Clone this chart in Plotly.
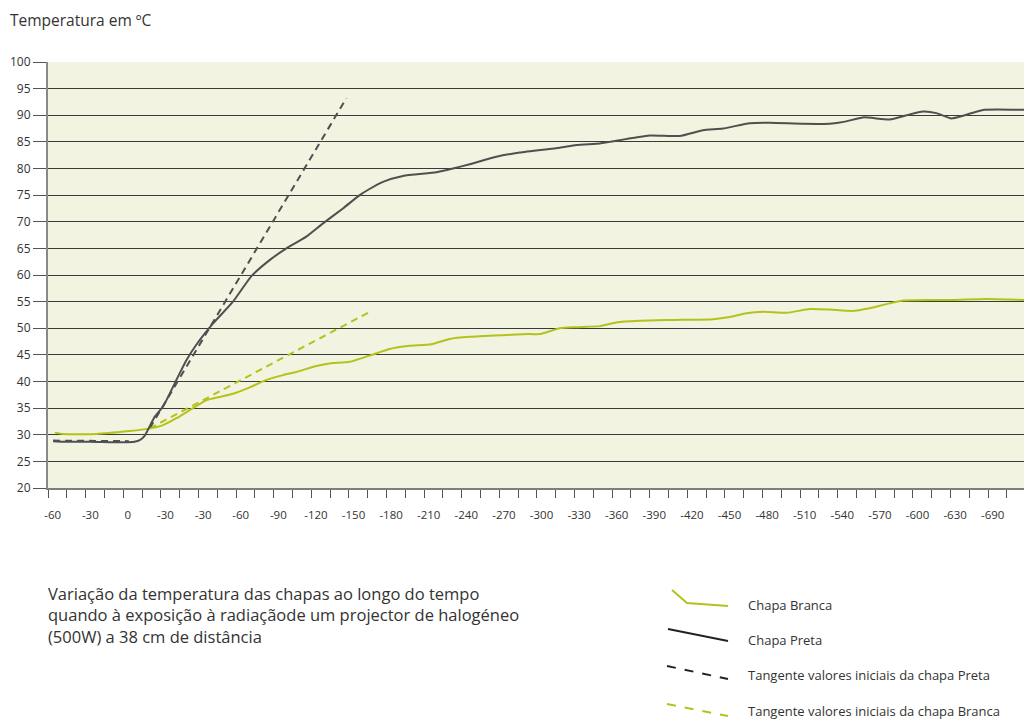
import plotly.graph_objects as go

# x positions are in "tick" units: one unit per small tick on the time axis
TICK_LABELS = ["-60", "-30", "0", "-30", "-30", "-60", "-90", "-120", "-150", "-180",
               "-210", "-240", "-270", "-300", "-330", "-360", "-390", "-420", "-450",
               "-480", "-510", "-540", "-570", "-600", "-630", "-690"]
TICK_POS = [0.25 + 2 * i for i in range(len(TICK_LABELS))]

preta_x = [0.27, 0.8, 2.2, 4.0, 4.6, 4.88, 5.14, 5.68, 6.12, 6.83, 7.36, 7.89, 8.78,
           9.84, 10.82, 11.79, 12.68, 13.74, 14.63, 15.69, 16.58, 17.1, 17.82, 18.88,
           20.66, 21.54, 22.43, 23.85, 25.09, 27.22, 28.1, 29.35, 29.88, 32.0, 33.6,
           34.84, 35.9, 37.32, 38.39, 40.16, 41.58, 42.4, 43.35, 44.77, 45.66, 46.54,
           47.26, 48.05, 48.67, 49.73, 52.13]
preta_y = [28.8, 28.7, 28.7, 28.6, 28.7, 29.0, 29.8, 33.4, 35.3, 40.3, 44.0, 46.9, 50.9,
           55.0, 59.8, 62.8, 65.0, 67.2, 69.7, 72.5, 75.0, 76.15, 77.5, 78.6,
           79.3, 80.0, 80.8, 82.2, 83.0, 83.9, 84.4, 84.7, 85.0, 86.2, 86.1,
           87.2, 87.5, 88.5, 88.6, 88.4, 88.4, 88.8, 89.6, 89.2, 90.0, 90.7,
           90.4, 89.4, 89.9, 91.0, 91.0]

branca_x = [0.36, 0.8, 2.57, 4.35, 5.32, 6.12, 6.83, 7.71, 8.43, 9.13, 9.84, 10.73,
            11.62, 12.5, 13.21, 14.28, 14.98, 16.05, 17.1, 18.17, 19.24, 20.39, 21.37,
            22.43, 24.2, 25.62, 26.15, 27.22, 28.1, 29.35, 30.23, 31.47, 33.24, 35.37,
            36.26, 37.15, 38.03, 39.28, 40.52, 41.58, 42.8, 43.7, 45.48, 48.1, 49.9, 52.13]
branca_y = [30.4, 30.15, 30.15, 30.7, 31.1, 31.8, 33.1, 35.0, 36.5, 37.1, 37.7, 38.9,
            40.3, 41.2, 41.8, 42.9, 43.4, 43.7, 44.85, 46.1, 46.7, 47.0, 48.0,
            48.4, 48.7, 48.9, 48.9, 50.0, 50.2, 50.4, 51.1, 51.4, 51.55, 51.7,
            52.1, 52.8, 53.1, 52.9, 53.6, 53.5, 53.24, 53.75, 55.2, 55.3, 55.5, 55.3]

# initial-value tangents (flat start + rising tangent)
tan_preta_x = [0.27, 4.3, None, 5.41, 15.87]
tan_preta_y = [28.9, 28.8, None, 31.2, 93.2]
tan_branca_x = [5.41, 17.02]
tan_branca_y = [31.2, 52.9]

Y_TICKS = list(range(20, 101, 5))

CAPTION = ["Variação da temperatura das chapas ao longo do tempo",
           "quando à exposição à radiaçãode um projector de halogéneo",
           "(500W) a 38 cm de distância"]

DARK = "#505050"
GREEN = "#b4c21c"
FONT = "Open Sans"

fig = go.Figure([
    go.Scatter(x=tan_branca_x, y=tan_branca_y, mode="lines",
               line=dict(color=GREEN, width=2, dash="7px,5px")),
    go.Scatter(x=tan_preta_x, y=tan_preta_y, mode="lines",
               line=dict(color=DARK, width=2, dash="7px,5px")),
    go.Scatter(x=branca_x, y=branca_y, mode="lines",
               line=dict(color=GREEN, width=2, shape="spline", smoothing=0.5)),
    go.Scatter(x=preta_x, y=preta_y, mode="lines",
               line=dict(color=DARK, width=2, shape="spline", smoothing=0.5)),
])

# page has an 8px body margin, so the figure is 8px smaller on each side
fig.update_layout(
    width=1024, height=713,
    margin=dict(l=40, r=0, t=54, b=233),
    paper_bgcolor="white",
    plot_bgcolor="#f2f3e0",
    showlegend=False,
    font=dict(family=FONT, color="#333333"),
    xaxis=dict(
        range=[0, 52.34], showgrid=False, zeroline=False,
        tickmode="array", tickvals=TICK_POS, ticktext=TICK_LABELS,
        ticks="", tickfont=dict(size=11.5, color="#333333"), ticklabelstandoff=15,
        showline=True, linecolor="#7f7f7a", linewidth=2,
        minor=dict(ticks="outside", tick0=0, dtick=1, ticklen=8,
                   tickcolor="#555555", tickwidth=1, showgrid=False),
    ),
    yaxis=dict(
        range=[20, 100], tickvals=Y_TICKS, zeroline=False,
        showgrid=True, gridcolor="#3a3a3a", gridwidth=1,
        ticks="outside", ticklen=13, tickcolor="#555555", tickwidth=1,
        tickfont=dict(size=12, color="#333333"),
        showline=True, linecolor="#8a8a85", linewidth=2,
    ),
)


def px_x(p):
    return (p - 48) / 984


def px_y(p):
    return (488 - p) / 426


fig.add_annotation(text="Temperatura em ºC", xref="paper", yref="paper",
                   x=px_x(8), y=px_y(20), xanchor="left", yanchor="middle",
                   showarrow=False, font=dict(size=15.5, color="#333333"))

fig.add_annotation(text="<br>".join(CAPTION), xref="paper", yref="paper",
                   x=px_x(46), y=px_y(580), xanchor="left", yanchor="top", align="left",
                   showarrow=False, font=dict(size=16.5, color="#333333"))

# hand-drawn style legend on the lower right
legend_items = [
    ("Chapa Branca", GREEN, "solid", [(672, 590), (687, 603), (728, 606)], 605),
    ("Chapa Preta", "#222222", "solid", [(668, 629), (728, 641)], 640),
    ("Tangente valores iniciais da chapa Preta", "#222222", "dash", [(667, 666), (728, 679)], 675),
    ("Tangente valores iniciais da chapa Branca", GREEN, "dash", [(667, 704), (728, 716)], 711),
]
for label, col, dash, pts, ty in legend_items:
    path = "M " + " L ".join(f"{px_x(a)},{px_y(b)}" for a, b in pts)
    fig.add_shape(type="path", path=path, xref="paper", yref="paper",
                  line=dict(color=col, width=2, dash=dash))
    fig.add_annotation(text=label, xref="paper", yref="paper",
                       x=px_x(746), y=px_y(ty), xanchor="left", yanchor="middle",
                       showarrow=False, font=dict(size=13, color="#333333"))

fig.write_html("out.html")
